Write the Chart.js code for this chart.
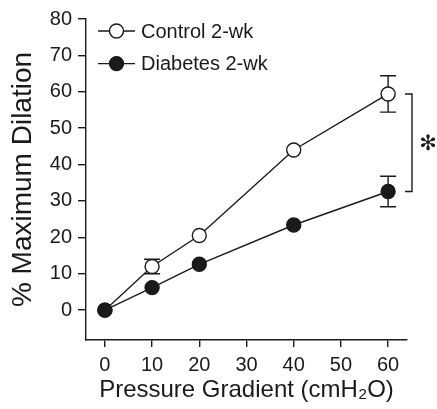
<!DOCTYPE html>
<html>
<head>
<meta charset="utf-8">
<script src="https://cdn.jsdelivr.net/npm/chart.js@4.4.1/dist/chart.umd.min.js"></script>
<style>
  html, body { margin: 0; padding: 0; background: #fff; }
  #wrap { width: 437px; height: 409px; }
</style>
</head>
<body>
<div id="wrap"><canvas id="chart" width="437" height="409"></canvas></div>
<script>
// values (0 error = hidden behind the marker)
const pressure = [0, 10, 20, 40, 60];
const controlMean = [0, 12.0, 20.5, 44.0, 59.4];
const controlErr = [0, 2.0, 0, 0, 5.0];
const diabetesMean = [0, 6.2, 12.6, 23.4, 32.6];
const diabetesErr = [0, 0, 0, 0, 4.2];
const xTicks = [0, 10, 20, 30, 40, 50, 60];
const yTicks = [0, 10, 20, 30, 40, 50, 60, 70, 80];
const seriesNames = ['Control 2-wk', 'Diabetes 2-wk'];
const sigMark = '✻';

const FONT = "'Liberation Sans', Arial, Helvetica, sans-serif";
const INK = '#1a1a1a';

// error bars go under the markers
const errorBars = {
  id: 'errorBars',
  beforeDatasetsDraw(chart) {
    const { ctx, scales: { x, y } } = chart;
    ctx.save();
    ctx.strokeStyle = INK;
    ctx.lineWidth = 1.4;
    chart.data.datasets.forEach(ds => {
      ds.data.forEach((pt, i) => {
        if (!ds.err[i]) return;
        const px = x.getPixelForValue(pt.x);
        const top = y.getPixelForValue(pt.y + ds.err[i]);
        const bot = y.getPixelForValue(pt.y - ds.err[i]);
        ctx.beginPath();
        ctx.moveTo(px, top); ctx.lineTo(px, bot);
        ctx.moveTo(px - 8, top); ctx.lineTo(px + 8, top);
        ctx.moveTo(px - 8, bot); ctx.lineTo(px + 8, bot);
        ctx.stroke();
      });
    });
    ctx.restore();
  }
};

// legend inside the plot + significance bracket on the right
const extras = {
  id: 'extras',
  afterDraw(chart) {
    const { ctx, chartArea, scales: { y } } = chart;
    ctx.save();
    ctx.lineWidth = 1.4;
    ctx.strokeStyle = INK;

    const fills = ['#fff', INK];
    seriesNames.forEach((name, i) => {
      const ly = chartArea.top + 12 + i * 32.6;
      const lx = chartArea.left + 12;
      ctx.beginPath();
      ctx.moveTo(lx, ly); ctx.lineTo(lx + 37, ly);
      ctx.stroke();
      ctx.beginPath();
      ctx.arc(lx + 18.5, ly, 7, 0, Math.PI * 2);
      ctx.fillStyle = fills[i];
      ctx.fill();
      ctx.stroke();
      ctx.fillStyle = INK;
      ctx.font = '20px ' + FONT;
      ctx.textBaseline = 'middle';
      ctx.textAlign = 'left';
      ctx.fillText(name, lx + 43, ly + 1);
    });

    const last = pressure.length - 1;
    const bx = chartArea.right + 5;
    const y1 = y.getPixelForValue(controlMean[last]);
    const y2 = y.getPixelForValue(diabetesMean[last]);
    ctx.beginPath();
    ctx.moveTo(bx - 7, y1); ctx.lineTo(bx, y1);
    ctx.lineTo(bx, y2); ctx.lineTo(bx - 7, y2);
    ctx.stroke();
    ctx.font = "21px 'DejaVu Sans', sans-serif";
    ctx.textAlign = 'center';
    ctx.textBaseline = 'middle';
    ctx.fillText(sigMark, bx + 16, (y1 + y2) / 2 + 2);
    ctx.restore();
  }
};

new Chart(document.getElementById('chart'), {
  type: 'line',
  data: {
    datasets: [
      {
        label: seriesNames[0],
        data: pressure.map((p, i) => ({ x: p, y: controlMean[i] })),
        err: controlErr,
        order: 1,
        borderColor: INK,
        borderWidth: 1.4,
        pointRadius: 7,
        pointBackgroundColor: '#fff',
        pointBorderColor: INK,
        pointBorderWidth: 1.4,
      },
      {
        label: seriesNames[1],
        data: pressure.map((p, i) => ({ x: p, y: diabetesMean[i] })),
        err: diabetesErr,
        order: 0,
        borderColor: INK,
        borderWidth: 1.4,
        pointRadius: 7,
        pointBackgroundColor: INK,
        pointBorderColor: INK,
        pointBorderWidth: 1.4,
      },
    ],
  },
  options: {
    responsive: false,
    animation: false,
    layout: { padding: { top: 19, right: 30, left: 0, bottom: 0 } },
    plugins: { legend: { display: false }, tooltip: { enabled: false } },
    scales: {
      x: {
        type: 'linear',
        min: -4,
        max: 64,
        afterBuildTicks: s => { s.ticks = xTicks.map(v => ({ value: v })); },
        afterFit: s => { s.height = 69; },
        grid: { drawOnChartArea: false, drawTicks: true, tickLength: 7, color: INK, lineWidth: 1.4 },
        border: { display: true, color: INK, width: 1.4 },
        ticks: { color: INK, font: { family: FONT, size: 20 }, padding: 6, maxRotation: 0 },
        title: {
          display: true,
          text: 'Pressure Gradient (cmH₂O)',
          color: INK,
          font: { family: FONT, size: 24 },
          padding: { top: 0, bottom: 4 },
        },
      },
      y: {
        min: -8.2,
        max: 80,
        afterBuildTicks: s => { s.ticks = yTicks.map(v => ({ value: v })); },
        afterFit: s => { s.width = 86; },
        grid: { drawOnChartArea: false, drawTicks: true, tickLength: 8, color: INK, lineWidth: 1.4 },
        border: { display: true, color: INK, width: 1.4 },
        ticks: { color: INK, font: { family: FONT, size: 20 }, padding: 6 },
        title: {
          display: true,
          text: '% Maximum Dilation',
          color: INK,
          font: { family: FONT, size: 28 },
          padding: { top: 6, bottom: 0 },
        },
      },
    },
  },
  plugins: [errorBars, extras],
});
</script>
</body>
</html>
